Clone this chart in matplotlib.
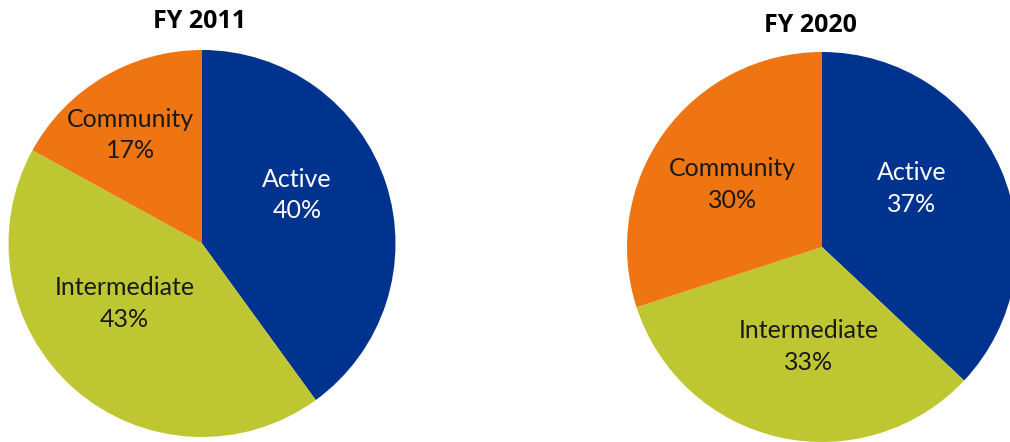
import matplotlib.pyplot as plt

# data
categories = ['Active', 'Intermediate', 'Community']
fy2011 = [40, 43, 17]
fy2020 = [37, 33, 30]
titles = ['FY 2011', 'FY 2020']
colors = ['#00338D', '#BEC732', '#EE7512']
text_colors = ['white', '#1a1a1a', '#1a1a1a']

plt.rcParams['font.family'] = ['Lato', 'DejaVu Sans']

W, H = 1010, 442
fig = plt.figure(figsize=(W / 100, H / 100), dpi=100)


def pie_axes(cx, cy, r):
    # cx, cy, r in pixels measured from the top-left corner
    return fig.add_axes([(cx - r) / W, (H - cy - r) / H, 2 * r / W, 2 * r / H])


# label spots inside each pie, in radius units
label_pos = [
    [(0.49, 0.25), (-0.40, -0.31), (-0.37, 0.56)],
    [(0.46, 0.30), (-0.07, -0.51), (-0.46, 0.32)],
]
centers = [(202, 243.5, 193.5), (822, 247, 195)]
title_pos = [(200, 21), (810, 25)]

for k, vals in enumerate([fy2011, fy2020]):
    cx, cy, r = centers[k]
    ax = pie_axes(cx, cy, r)
    wedges, _ = ax.pie(vals, colors=colors, startangle=90, counterclock=False,
                       radius=1, wedgeprops=dict(linewidth=0))
    for w in wedges:
        w.set_clip_on(False)
    ax.set_xlim(-1, 1)
    ax.set_ylim(-1, 1)
    ax.set_aspect('auto')
    ax.axis('off')
    for i, cat in enumerate(categories):
        x, y = label_pos[k][i]
        ax.text(x, y, '%s\n%d%%' % (cat, vals[i]), ha='center', va='center',
                fontsize=18, color=text_colors[i], linespacing=1.45)
    tx, ty = title_pos[k]
    fig.text(tx / W, 1 - ty / H, titles[k], ha='center', va='center',
             fontsize=18, fontweight='bold', color='black',
             family=['Open Sans', 'DejaVu Sans'])

fig.savefig('out.png', dpi=100)
